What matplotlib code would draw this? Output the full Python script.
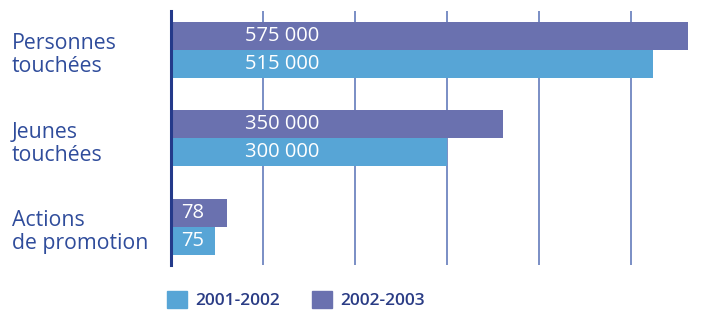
"""Personnes / jeunes touchées et actions de promotion, 2001-2002 vs 2002-2003."""
import matplotlib

matplotlib.use("Agg")
import matplotlib.pyplot as plt  # noqa: E402
import matplotlib.transforms as mtransforms  # noqa: E402
from matplotlib.patches import Patch  # noqa: E402

categories = ["Personnes\ntouchées", "Jeunes\ntouchées", "Actions\nde promotion"]
periods = ["2001-2002", "2002-2003"]
# printed values
labels_0102 = ["515 000", "300 000", "75"]
labels_0203 = ["575 000", "350 000", "78"]
# drawn bar lengths, in grid units (one gridline = 1)
length_0102 = [5.24, 3.00, 0.48]
length_0203 = [5.62, 3.61, 0.61]
grid_ticks = [1, 2, 3, 4, 5]

BLUE = "#57a5d6"
PURPLE = "#6a71af"
NAVY = "#243a8a"
GRID = "#5670b5"
TEXT = "#2f4c9b"
LEG_TEXT = "#2a3c85"

plt.rcParams["font.family"] = ["Open Sans", "DejaVu Sans"]

W, H = 715, 313
fig = plt.figure(figsize=(W / 100, H / 100), dpi=100)
ax = fig.add_axes([171 / W, 1 - 265 / H, (W - 171) / W, (265 - 11) / H])

h = 0.317
ys = list(range(len(categories)))
ax.barh([y - h / 2 for y in ys], length_0203, height=h, color=PURPLE, zorder=3)
ax.barh([y + h / 2 for y in ys], length_0102, height=h, color=BLUE, zorder=3)

ax.set_xlim(0, (W - 171) / 92)
ax.set_ylim(2.433, -0.44)
ax.set_xticks(grid_ticks)
ax.set_yticks([])
ax.tick_params(length=0, labelbottom=False)
ax.grid(axis="x", color=GRID, lw=1.1, zorder=1)
for side in ("top", "right", "bottom"):
    ax.spines[side].set_visible(False)
ax.spines["left"].set_color(NAVY)
ax.spines["left"].set_linewidth(2.2)
ax.spines["left"].set_zorder(4)

# value labels inside the bars
for i, y in enumerate(ys):
    x = 0.80 if length_0203[i] > 1 else 0.11
    ax.text(x, y - h / 2, labels_0203[i], color="white", fontsize=14.5,
            va="center", ha="left", zorder=5)
    ax.text(x, y + h / 2, labels_0102[i], color="white", fontsize=14.5,
            va="center", ha="left", zorder=5)

# category labels, left aligned at the figure edge
trans = mtransforms.blended_transform_factory(fig.transFigure, ax.transData)
for y, cat in zip(ys, categories):
    ax.text(12 / W, y + 0.06, cat, transform=trans, color=TEXT, fontsize=15.3,
            va="center", ha="left", linespacing=1.12)

handles = [Patch(color=BLUE), Patch(color=PURPLE)]
fig.legend(handles, periods, loc="upper left", bbox_to_anchor=(167 / W, 1 - 291 / H),
           ncol=2, frameon=False, handlelength=1.15, handleheight=1.15,
           handletextpad=0.5, columnspacing=1.8, borderpad=0, borderaxespad=0,
           prop={"size": 12.5, "weight": "semibold"}, labelcolor=LEG_TEXT)

fig.savefig("out.png", dpi=100)
